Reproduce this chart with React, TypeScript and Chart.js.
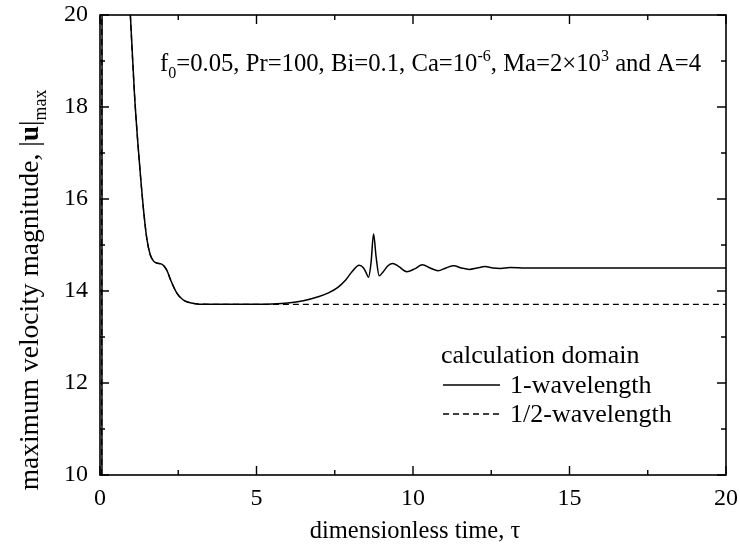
import React, { useEffect, useRef } from "react";
import { Chart, registerables } from "chart.js";

Chart.register(...registerables);

// ---- data ----
const tauOne = [0.06, 0.08, 0.3, 0.6, 0.97, 1.1, 1.2, 1.3, 1.4, 1.5, 1.6, 1.7, 1.8, 1.95, 2.05, 2.15, 2.25, 2.45, 2.65, 2.85, 3.1, 3.5, 4.5, 5.5, 6.0, 6.5, 7.0, 7.3, 7.6, 7.85, 8.05, 8.28, 8.42, 8.5, 8.58, 8.66, 8.74, 8.82, 8.92, 9.05, 9.2, 9.35, 9.55, 9.8, 10.05, 10.3, 10.55, 10.8, 11.05, 11.3, 11.55, 11.8, 12.05, 12.3, 12.55, 12.8, 13.1, 13.6, 15, 17, 20];
const valOne = [0, 60, 38, 26, 20, 18.3, 17.3, 16.45, 15.7, 15.12, 14.8, 14.66, 14.61, 14.59, 14.54, 14.43, 14.25, 13.96, 13.81, 13.75, 13.72, 13.71, 13.71, 13.72, 13.74, 13.79, 13.88, 13.96, 14.08, 14.24, 14.42, 14.56, 14.5, 14.4, 14.3, 14.62, 15.24, 14.75, 14.33, 14.42, 14.55, 14.6, 14.53, 14.42, 14.48, 14.57, 14.5, 14.44, 14.5, 14.55, 14.5, 14.47, 14.5, 14.53, 14.5, 14.49, 14.51, 14.5, 14.5, 14.5, 14.5];

const tauHalf = [0.05, 0.07, 0.3, 0.6, 0.97, 1.1, 1.2, 1.3, 1.4, 1.5, 1.6, 1.7, 1.8, 1.95, 2.05, 2.15, 2.25, 2.45, 2.65, 2.85, 3.1, 3.5, 4.5, 5.5, 7, 10, 15, 20];
const valHalf = [0, 60, 38, 26, 20, 18.3, 17.3, 16.45, 15.7, 15.12, 14.8, 14.66, 14.61, 14.59, 14.54, 14.43, 14.25, 13.96, 13.81, 13.75, 13.72, 13.71, 13.71, 13.71, 13.71, 13.71, 13.71, 13.71];

const xMajorTicks = [0, 5, 10, 15, 20];
const xMinorTicks = [2.5, 7.5, 12.5, 17.5];
const yMajorTicks = [10, 12, 14, 16, 18, 20];
const yMinorTicks = [11, 13, 15, 17, 19];

const legendTitle = "calculation domain";
const seriesLabels = ["1-wavelength", "1/2-wavelength"];

const FONT = "'Liberation Serif', 'Times New Roman', serif";

type Run = { t: string; bold?: boolean; shift?: "sub" | "sup" };

function runFont(r: Run, size: number) {
  const s = r.shift ? size * 0.65 : size;
  return `${r.bold ? "bold " : ""}${s}px ${FONT}`;
}

function drawRuns(ctx: CanvasRenderingContext2D, runs: Run[], x: number, y: number, size: number, align: "left" | "center") {
  ctx.save();
  ctx.textBaseline = "alphabetic";
  ctx.textAlign = "left";
  const widths = runs.map((r) => {
    ctx.font = runFont(r, size);
    return ctx.measureText(r.t).width;
  });
  const total = widths.reduce((a, b) => a + b, 0);
  let cx = align === "center" ? x - total / 2 : x;
  runs.forEach((r, i) => {
    ctx.font = runFont(r, size);
    const dy = r.shift === "sub" ? size * 0.28 : r.shift === "sup" ? -size * 0.42 : 0;
    ctx.fillText(r.t, cx, y + dy);
    cx += widths[i];
  });
  ctx.restore();
}

const annotationRuns: Run[] = [
  { t: "f" },
  { t: "0", shift: "sub" },
  { t: "=0.05, Pr=100, Bi=0.1, Ca=10" },
  { t: "-6", shift: "sup" },
  { t: ", Ma=2\u00d710" },
  { t: "3", shift: "sup" },
  { t: " and A=4" },
];

const yTitleRuns: Run[] = [
  { t: "maximum velocity magnitude, |" },
  { t: "u", bold: true },
  { t: "|" },
  { t: "max", shift: "sub" },
];

const xTitleRuns: Run[] = [{ t: "dimensionless time, \u03c4" }];

const framePlugin = {
  id: "framePlugin",
  afterDraw(chart: any) {
    const ctx: CanvasRenderingContext2D = chart.ctx;
    const { left, right, top, bottom } = chart.chartArea;
    const xs = chart.scales.x;
    const ys = chart.scales.y;
    ctx.save();
    ctx.strokeStyle = "#000";
    ctx.fillStyle = "#000";
    ctx.lineWidth = 1.6;
    ctx.setLineDash([]);
    ctx.strokeRect(left, top, right - left, bottom - top);
    ctx.lineWidth = 1.4;
    const major = 9;
    const minor = 5;
    ctx.beginPath();
    const xt = (v: number, len: number) => {
      const p = xs.getPixelForValue(v);
      ctx.moveTo(p, bottom);
      ctx.lineTo(p, bottom - len);
      ctx.moveTo(p, top);
      ctx.lineTo(p, top + len);
    };
    const yt = (v: number, len: number) => {
      const p = ys.getPixelForValue(v);
      ctx.moveTo(left, p);
      ctx.lineTo(left + len, p);
      ctx.moveTo(right, p);
      ctx.lineTo(right - len, p);
    };
    xMajorTicks.forEach((v) => xt(v, major));
    xMinorTicks.forEach((v) => xt(v, minor));
    yMajorTicks.forEach((v) => yt(v, major));
    yMinorTicks.forEach((v) => yt(v, minor));
    ctx.stroke();

    // annotation
    drawRuns(ctx, annotationRuns, 160, 71, 24.7, "left");

    // legend
    ctx.font = `26px ${FONT}`;
    ctx.textBaseline = "alphabetic";
    ctx.textAlign = "left";
    ctx.fillText(legendTitle, 441, 363);
    ctx.lineWidth = 1.5;
    ctx.beginPath();
    ctx.moveTo(443, 385);
    ctx.lineTo(500, 385);
    ctx.stroke();
    ctx.fillText(seriesLabels[0], 510, 393);
    ctx.lineWidth = 1.3;
    ctx.setLineDash([6, 4]);
    ctx.beginPath();
    ctx.moveTo(443, 414);
    ctx.lineTo(500, 414);
    ctx.stroke();
    ctx.setLineDash([]);
    ctx.fillText(seriesLabels[1], 510, 422);

    // x title
    drawRuns(ctx, xTitleRuns, 415, 538, 24.5, "center");

    // y title
    ctx.save();
    ctx.translate(38, 290);
    ctx.rotate(-Math.PI / 2);
    drawRuns(ctx, yTitleRuns, 0, 0, 27.5, "center");
    ctx.restore();

    ctx.restore();
  },
};

export default function App() {
  const ref = useRef<HTMLCanvasElement | null>(null);
  useEffect(() => {
    if (!ref.current) return;
    const chart = new Chart(ref.current, {
      type: "line",
      data: {
        datasets: [
          {
            label: seriesLabels[1],
            data: tauHalf.map((x, i) => ({ x, y: valHalf[i] })),
            borderColor: "#000",
            borderWidth: 1.3,
            borderDash: [6, 4],
            pointRadius: 0,
            cubicInterpolationMode: "monotone",
            fill: false,
          },
          {
            label: seriesLabels[0],
            data: tauOne.map((x, i) => ({ x, y: valOne[i] })),
            borderColor: "#000",
            borderWidth: 1.5,
            pointRadius: 0,
            cubicInterpolationMode: "monotone",
            fill: false,
          },
        ],
      },
      options: {
        animation: false,
        responsive: true,
        maintainAspectRatio: false,
        layout: { padding: { left: 0, right: 14, top: 15, bottom: 0 } },
        plugins: { legend: { display: false }, tooltip: { enabled: false }, title: { display: false } },
        scales: {
          x: {
            type: "linear",
            min: 0,
            max: 20,
            afterBuildTicks: (s: any) => {
              s.ticks = xMajorTicks.map((v) => ({ value: v }));
            },
            ticks: { font: { family: FONT, size: 24 }, color: "#000", padding: 9, maxRotation: 0 },
            grid: { display: false, drawTicks: false },
            border: { display: false },
            afterFit: (s: any) => {
              s.height = 76;
              s.paddingLeft = 0;
              s.paddingRight = 0;
            },
          },
          y: {
            type: "linear",
            min: 10,
            max: 20,
            afterBuildTicks: (s: any) => {
              s.ticks = yMajorTicks.map((v) => ({ value: v }));
            },
            ticks: { font: { family: FONT, size: 24 }, color: "#000", padding: 12 },
            grid: { display: false, drawTicks: false },
            border: { display: false },
            afterFit: (s: any) => {
              s.width = 100;
              s.paddingTop = 0;
              s.paddingBottom = 0;
            },
          },
        },
      },
      plugins: [framePlugin],
    } as any);
    return () => chart.destroy();
  }, []);
  return (
    <div style={{ position: "absolute", left: 0, top: 0, width: 740, height: 551, background: "#fff" }}>
      <canvas ref={ref} />
    </div>
  );
}
